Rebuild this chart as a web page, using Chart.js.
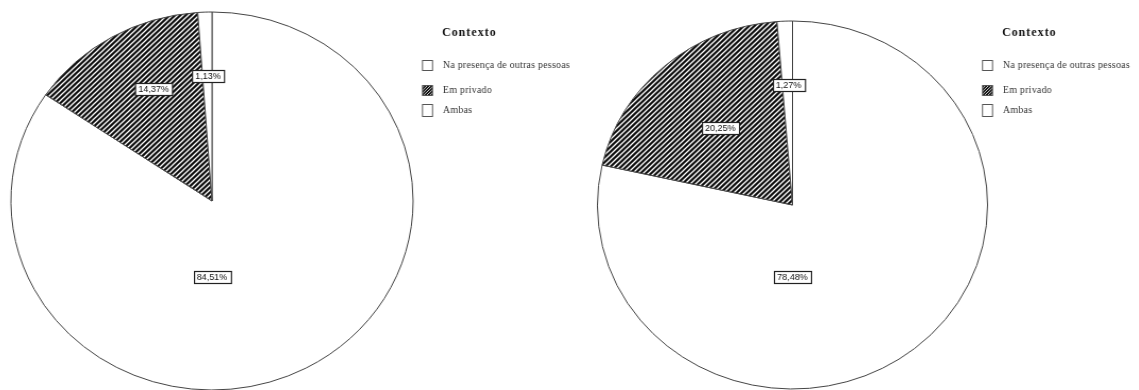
<!DOCTYPE html>
<html>
<head>
<meta charset="utf-8">
<script src="https://cdn.jsdelivr.net/npm/chart.js@4.4.0/dist/chart.umd.min.js"></script>
<style>
  html, body { margin: 0; padding: 0; background: #fff; }
  #wrap { position: relative; width: 1139px; height: 390px; overflow: hidden; }
  .pane { position: absolute; top: 0; height: 390px; }
  #p1 { left: 0; width: 570px; transform-origin: 212px 201px; transform: scaleX(1.064); }
  #p2 { left: 570px; width: 569px; transform-origin: 222.5px 205px; transform: scaleX(1.06); }
</style>
</head>
<body>
<div id="wrap">
  <div class="pane" id="p1"><canvas id="pie_left" width="570" height="390"></canvas></div>
  <div class="pane" id="p2"><canvas id="pie_right" width="569" height="390"></canvas></div>
</div>
<script>
  const categories = ['Na presença de outras pessoas', 'Em privado', 'Ambas'];
  const pctLeft = [84.51, 14.37, 1.13];
  const pctRight = [78.48, 20.25, 1.27];
  const legendTitle = 'Contexto';

  // diagonal hatch used for "Em privado"
  function hatch(size, lw) {
    const c = document.createElement('canvas');
    c.width = size; c.height = size;
    const g = c.getContext('2d');
    g.fillStyle = '#111';
    g.fillRect(0, 0, size, size);
    g.strokeStyle = '#fafafa';
    g.lineWidth = lw;
    g.beginPath();
    g.moveTo(0, size); g.lineTo(size, 0);
    g.moveTo(-size, size); g.lineTo(size, -size);
    g.moveTo(0, 2 * size); g.lineTo(2 * size, 0);
    g.stroke();
    return g.createPattern(c, 'repeat');
  }

  // boxed percentage labels + legend, drawn without the horizontal stretch
  const boxLabels = {
    id: 'boxLabels',
    afterDraw(chart, args, o) {
      const ctx = chart.ctx;
      const s = o.stretch;
      const arcs = chart.getDatasetMeta(0).data;
      const cx = arcs[0].x, cy = arcs[0].y, r = arcs[0].outerRadius;
      ctx.save();
      ctx.translate(cx, 0); ctx.scale(1 / s, 1); ctx.translate(-cx, 0);

      ctx.font = '9px "Liberation Sans"';
      ctx.textAlign = 'center';
      ctx.textBaseline = 'middle';
      chart.data.datasets[0].data.forEach((v, i) => {
        const txt = v.toFixed(2).replace('.', ',') + '%';
        const x = cx + o.offsets[i][0] * r * s;
        const y = cy + o.offsets[i][1] * r;
        const w = Math.round(ctx.measureText(txt).width + 6);
        const bx = Math.round(x - w / 2) + 0.5, by = Math.round(y - 6) + 0.5;
        ctx.fillStyle = '#fff';
        ctx.fillRect(bx, by, w, 12);
        ctx.strokeStyle = '#222';
        ctx.lineWidth = 1.2;
        ctx.strokeRect(bx, by, w, 12);
        ctx.fillStyle = '#111';
        ctx.fillText(txt, x, y + 0.5);
      });

      // legend
      ctx.textAlign = 'left';
      ctx.lineWidth = 1;
      ctx.fillStyle = '#111';
      ctx.font = 'bold 12px "Liberation Serif"';
      ctx.letterSpacing = '1px';
      ctx.fillText(legendTitle, o.legendX + 20, 33);
      ctx.font = '10px "Liberation Serif"';
      ctx.letterSpacing = '0.2px';
      const rows = [65, 90, 110];
      const legendFill = ['#ffffff', hatch(3, 0.8), '#ffffff'];
      chart.data.labels.forEach((lab, i) => {
        const y = rows[i];
        const h = i === 2 ? 12 : 10;
        ctx.fillStyle = legendFill[i];
        ctx.fillRect(o.legendX + 0.5, y - h / 2 + 0.5, 10, h);
        ctx.strokeStyle = '#555';
        ctx.strokeRect(o.legendX + 0.5, y - h / 2 + 0.5, 10, h);
        ctx.fillStyle = '#333';
        ctx.fillText(lab, o.legendX + 21, y);
      });
      ctx.restore();
    }
  };

  function makePie(id, values, cx, cy, r, stretch, offsets, legendX) {
    const el = document.getElementById(id);
    const W = el.width, H = el.height;
    return new Chart(el, {
      type: 'pie',
      data: {
        labels: categories,
        datasets: [{
          data: values,
          backgroundColor: ['#ffffff', hatch(5, 1.3), '#ffffff'],
          borderColor: '#444',
          borderWidth: 1
        }]
      },
      options: {
        responsive: false,
        animation: false,
        radius: r,
        layout: {
          padding: { left: cx - r, right: W - cx - r, top: cy - r, bottom: H - cy - r }
        },
        plugins: {
          legend: { display: false },
          tooltip: { enabled: false },
          boxLabels: { stretch: stretch, offsets: offsets, legendX: legendX }
        }
      },
      plugins: [boxLabels]
    });
  }

  makePie('pie_left', pctLeft, 212, 201, 189, 1.064,
    [[0, 0.40], [-0.29, -0.59], [-0.02, -0.66]], 422);
  makePie('pie_right', pctRight, 222.5, 205, 184, 1.06,
    [[0, 0.39], [-0.37, -0.42], [-0.02, -0.65]], 412);
</script>
</body>
</html>
